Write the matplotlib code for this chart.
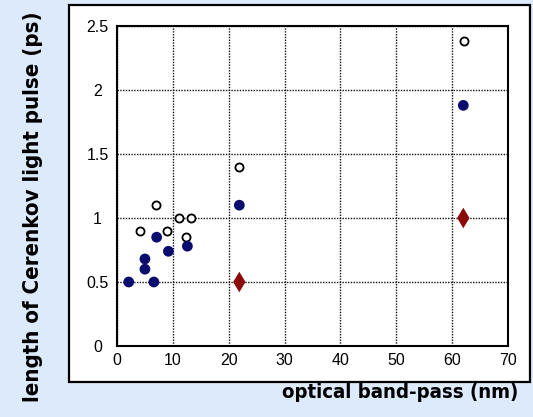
import matplotlib
matplotlib.use("Agg")
import matplotlib.pyplot as plt
from matplotlib.patches import Rectangle

# Measured pulse lengths versus optical band-pass
open_x = [4.2, 6.9, 9.0, 11.1, 13.3, 12.4, 21.9, 62.1]
open_y = [0.90, 1.10, 0.90, 1.00, 1.00, 0.85, 1.40, 2.38]

filled_x = [2.1, 6.6, 5.0, 5.0, 7.1, 9.2, 12.6, 21.9, 62.0]
filled_y = [0.50, 0.50, 0.60, 0.68, 0.85, 0.74, 0.78, 1.10, 1.88]

diamond_x = [21.9, 62.0]
diamond_y = [0.50, 1.00]

x_ticks = [0, 10, 20, 30, 40, 50, 60, 70]
x_tick_labels = ["0", "10", "20", "30", "40", "50", "60", "70"]
y_ticks = [0, 0.5, 1, 1.5, 2, 2.5]
y_tick_labels = ["0", "0.5", "1", "1.5", "2", "2.5"]

W, H = 533, 417
fig = plt.figure(figsize=(W / 100, H / 100), dpi=100)
fig.patch.set_facecolor("#dceafb")

# white panel behind the plot
panel = Rectangle((69 / W, 1 - 382 / H), (530 - 69) / W, (382 - 5) / H,
                  transform=fig.transFigure, facecolor="white",
                  edgecolor="black", linewidth=1.6, zorder=-5)
fig.patches.append(panel)

ax = fig.add_axes([117 / W, 1 - 346 / H, (508 - 117) / W, (346 - 26) / H])
ax.set_zorder(2)
ax.set_facecolor("white")

ax.scatter(open_x, open_y, s=34, facecolors="white", edgecolors="black",
           linewidths=1.3, zorder=3)
ax.scatter(filled_x, filled_y, s=60, color="#0a0c6e", edgecolors="none",
           zorder=3)
ax.scatter(diamond_x, diamond_y, s=110, marker="d", color="#8a0a0a",
           edgecolors="none", zorder=3)

ax.set_xlim(0, 70)
ax.set_ylim(0, 2.5)
ax.set_xticks(x_ticks)
ax.set_xticklabels(x_tick_labels)
ax.set_yticks(y_ticks)
ax.set_yticklabels(y_tick_labels)

for lab in ax.get_xticklabels() + ax.get_yticklabels():
    lab.set_fontfamily(["Liberation Sans", "DejaVu Sans"])
    lab.set_fontsize(11.5)
for lab in ax.get_yticklabels():
    lab.set_horizontalalignment("center")

ax.tick_params(axis="both", length=0, colors="black")
ax.tick_params(axis="x", pad=5)
ax.tick_params(axis="y", pad=14)

ax.grid(True, color="#111111", linestyle=(0, (1, 1)), linewidth=1.0)
ax.set_axisbelow(True)
for sp in ax.spines.values():
    sp.set_linewidth(1.5)
    sp.set_color("black")
    sp.set_zorder(4)

label_font = ["DejaVu Sans", "Liberation Sans"]
fig.text(518 / W, 1 - 398 / H, "optical band-pass (nm)", ha="right",
         va="baseline", fontsize=14.6, fontweight="bold", family=label_font,
         fontstretch="condensed")
fig.text(33 / W, 1 - 207 / H, "length of Cerenkov light pulse (ps)",
         rotation=90, ha="center", va="center", fontsize=15.9,
         fontweight="bold", family=label_font, fontstretch="condensed")

fig.savefig("out.png", dpi=100, facecolor=fig.get_facecolor())
